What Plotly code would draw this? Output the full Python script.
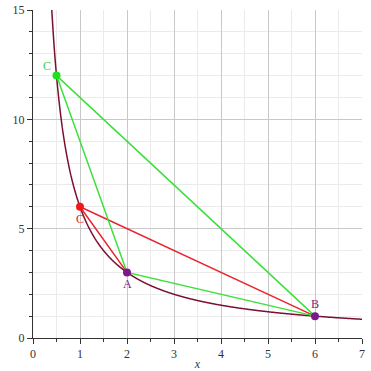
import numpy as np
import plotly.graph_objects as go

# data
curve_k = 6
curve_x_start = 0.4
curve_x_end = 7.0
A = (2, 3)
B = (6, 1)
C_red = (1, 6)
C_green = (0.5, 12)

xs = np.geomspace(curve_x_start, curve_x_end, 800)
ys = curve_k / xs

fig = go.Figure()
fig.add_trace(go.Scatter(x=xs, y=ys, mode="lines", line=dict(color="#7A1030", width=1.5, shape="spline"), hoverinfo="skip"))
# red triangle (A-B side hidden under green)
fig.add_trace(go.Scatter(x=[A[0], C_red[0], B[0]], y=[A[1], C_red[1], B[1]],
                         mode="lines", line=dict(color="#E8262E", width=1.5)))
# green triangle
fig.add_trace(go.Scatter(x=[C_green[0], A[0], B[0], C_green[0]], y=[C_green[1], A[1], B[1], C_green[1]],
                         mode="lines", line=dict(color="#3CE03C", width=1.5)))
# points
fig.add_trace(go.Scatter(x=[A[0], B[0]], y=[A[1], B[1]], mode="markers",
                         marker=dict(color="#7A1A8A", size=8)))
fig.add_trace(go.Scatter(x=[C_red[0]], y=[C_red[1]], mode="markers", marker=dict(color="#F01818", size=8)))
fig.add_trace(go.Scatter(x=[C_green[0]], y=[C_green[1]], mode="markers", marker=dict(color="#20E020", size=8)))

font_serif = "Liberation Serif, Times New Roman, serif"
labels = [
    (C_green[0] - 0.2, C_green[1] + 0.45, "C", "#3CD03C"),
    (C_red[0], C_red[1] - 0.55, "C", "#E02020"),
    (A[0], A[1] - 0.55, "A", "#7A1A8A"),
    (B[0], B[1] + 0.55, "B", "#7A1A8A"),
]
for lx, ly, t, c in labels:
    fig.add_annotation(x=lx, y=ly, text=t, showarrow=False, font=dict(family=font_serif, size=12, color=c))

fig.update_layout(
    width=371, height=371, showlegend=False,
    margin=dict(l=33, r=9, t=10, b=33),
    plot_bgcolor="white", paper_bgcolor="white",
    font=dict(family=font_serif, size=12, color="#333333"),
)
fig.update_xaxes(range=[0, 7], tickvals=[0, 1, 2, 3, 4, 5, 6, 7], showgrid=True, gridcolor="#C8C8C8", gridwidth=1,
                 zeroline=False, showline=True, linecolor="#333333", linewidth=1, automargin=False,
                 ticks="outside", ticklen=5, tickcolor="#333333",
                 minor=dict(dtick=0.5, showgrid=True, gridcolor="#EBEBEB", ticks="outside", ticklen=3, tickcolor="#333333"),
                 title=dict(text="<i>x</i>", standoff=2, font=dict(size=12)))
fig.update_yaxes(range=[0, 15], tickvals=[0, 5, 10, 15], showgrid=True, gridcolor="#C8C8C8", gridwidth=1,
                 zeroline=False, showline=True, linecolor="#333333", linewidth=1, automargin=False,
                 ticks="outside", ticklen=5, tickcolor="#333333",
                 minor=dict(dtick=1, showgrid=True, gridcolor="#EBEBEB", ticks="outside", ticklen=3, tickcolor="#333333"))

fig.write_html("out.html")
